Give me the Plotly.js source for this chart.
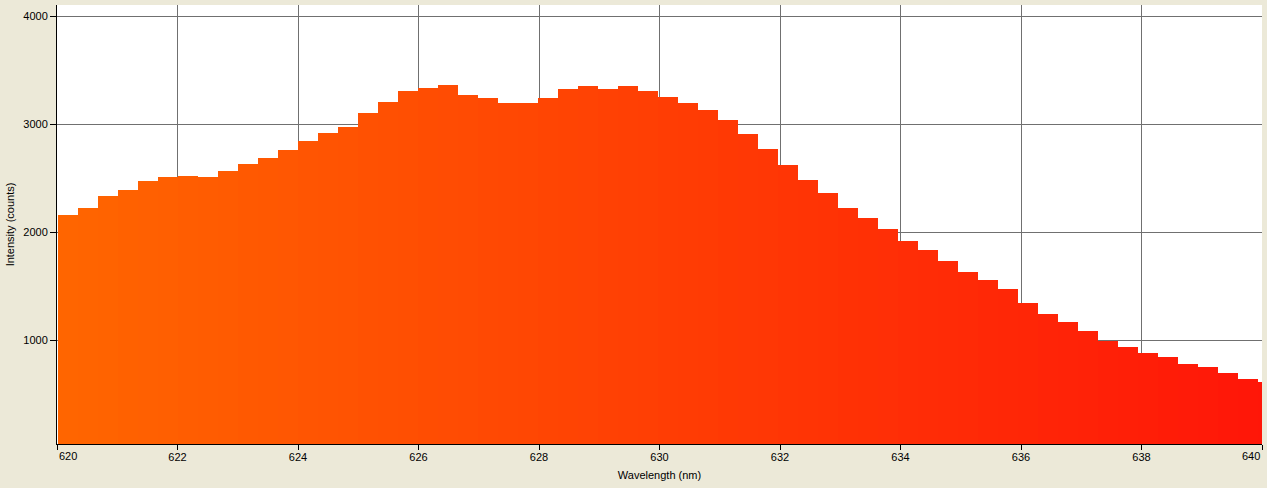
<!DOCTYPE html>
<html>
<head>
<meta charset="utf-8">
<script src="https://cdn.plot.ly/plotly-3.0.1.min.js"></script>
<style>
html,body{margin:0;padding:0;background:#ECE9D8;}
#chart{width:1267px;height:488px;}
</style>
</head>
<body>
<div id="chart"></div>
<script>
// Bin centers (nm), bin width ~0.332 nm
const wavelengths = [
  620.183, 620.515, 620.847, 621.179, 621.511, 621.843, 622.175, 622.507, 622.839, 623.171,
  623.503, 623.835, 624.167, 624.499, 624.831, 625.163, 625.495, 625.827, 626.159, 626.491,
  626.823, 627.155, 627.487, 627.819, 628.151, 628.483, 628.815, 629.147, 629.479, 629.811,
  630.143, 630.475, 630.807, 631.139, 631.471, 631.803, 632.135, 632.467, 632.799, 633.131,
  633.463, 633.795, 634.127, 634.459, 634.791, 635.123, 635.455, 635.787, 636.119, 636.451,
  636.783, 637.115, 637.447, 637.779, 638.111, 638.443, 638.775, 639.107, 639.439, 639.771,
  640.103
];
const intensity = [
  2157, 2225, 2333, 2389, 2472, 2509, 2519, 2509, 2565, 2630,
  2685, 2759, 2843, 2917, 2972, 3102, 3204, 3306, 3333, 3361,
  3269, 3241, 3194, 3194, 3241, 3324, 3352, 3324, 3352, 3306,
  3250, 3194, 3130, 3037, 2907, 2769, 2620, 2481, 2361, 2222,
  2130, 2028, 1917, 1833, 1731, 1630, 1556, 1472, 1343, 1241,
  1167, 1083, 991, 935, 880, 843, 778, 750, 694, 639,
  611
];
const xTicks = [620, 622, 624, 626, 628, 630, 632, 634, 636, 638, 640];
const xTickText = ['', '622', '624', '626', '628', '630', '632', '634', '636', '638', ''];
const yTicks = [1000, 2000, 3000, 4000];
const yTickText = ['1000', '2000', '3000', '4000'];

// horizontal orange -> red gradient (style only)
const c0 = [255, 102, 0], c1 = [255, 22, 8];
const colors = wavelengths.map(w => {
  let t = Math.min(1, Math.max(0, (w - 620) / 20));
  const c = c0.map((v, i) => Math.round(v + (c1[i] - v) * t));
  return `rgb(${c[0]},${c[1]},${c[2]})`;
});

const font = {family: 'Liberation Sans, Arial, sans-serif', size: 11, color: '#000'};

const trace = {
  type: 'bar',
  x: wavelengths,
  y: intensity,
  width: 0.334,
  marker: {color: colors, line: {width: 0}},
  hoverinfo: 'x+y'
};

const layout = {
  width: 1267, height: 488,
  paper_bgcolor: '#ECE9D8',
  plot_bgcolor: '#FFFFFF',
  margin: {l: 57, r: 5, t: 5, b: 44},
  showlegend: false,
  bargap: 0,
  font: font,
  xaxis: {
    range: [620, 640],
    tickvals: xTicks,
    ticktext: xTickText,
    ticks: 'outside', ticklen: 5, tickwidth: 1, tickcolor: '#000',
    ticklabelstandoff: -2,
    showgrid: true, gridcolor: '#707070', gridwidth: 1,
    showline: true, linecolor: '#000', linewidth: 1,
    zeroline: false,
    tickfont: font,
    title: {text: 'Wavelength (nm)', font: font, standoff: 9}
  },
  yaxis: {
    range: [37, 4102],
    tickvals: yTicks,
    ticktext: yTickText,
    ticks: 'outside', ticklen: 6, tickwidth: 1, tickcolor: '#000',
    showgrid: true, gridcolor: '#707070', gridwidth: 1,
    showline: true, linecolor: '#000', linewidth: 1,
    zeroline: false,
    tickfont: font,
    title: {text: 'Intensity (counts)', font: font, standoff: 6}
  },
  annotations: [
    {text: '620', x: 620, y: 0, xref: 'x', yref: 'paper', xanchor: 'left', yanchor: 'top',
     yshift: -4, showarrow: false, font: font},
    {text: '640', x: 640, y: 0, xref: 'x', yref: 'paper', xanchor: 'right', yanchor: 'top',
     yshift: -4, showarrow: false, font: font}
  ]
};

Plotly.newPlot('chart', [trace], layout, {displayModeBar: false, staticPlot: true});
</script>
</body>
</html>
